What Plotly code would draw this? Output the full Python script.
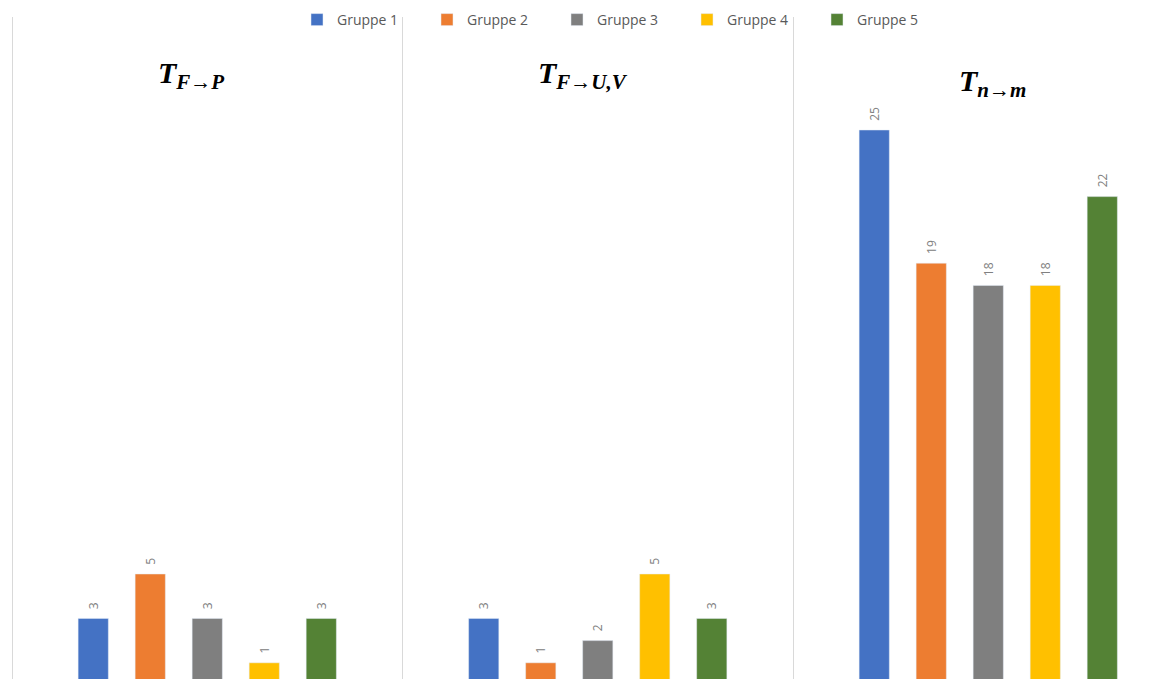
import plotly.graph_objects as go

categories = ["T_F→P", "T_F→U,V", "T_n→m"]
series_names = ["Gruppe 1", "Gruppe 2", "Gruppe 3", "Gruppe 4", "Gruppe 5"]
series_values = [
    [3, 3, 25],
    [5, 1, 19],
    [3, 2, 18],
    [1, 5, 18],
    [3, 3, 22],
]
colors = ["#4472C4", "#ED7D31", "#7F7F7F", "#FFC000", "#548235"]
title_html = [
    "<b><i>T</i></b><sub><b><i>F→P</i></b></sub>",
    "<b><i>T</i></b><sub><b><i>F→U,V</i></b></sub>",
    "<b><i>T</i></b><sub><b><i>n→m</i></b></sub>",
]
title_pos = [(191, 75), (583, 75), (992, 83)]

W, H = 1176, 679
fig = go.Figure()
for name, vals, col in zip(series_names, series_values, colors):
    fig.add_trace(go.Bar(
        x=categories, y=vals, name=name, marker_color=col,
        text=["\u00a0\u00a0" + str(v) for v in vals], textposition="outside", textangle=-90,
        textfont=dict(color="#808080", size=12, family="Open Sans"),
        constraintext="none", cliponaxis=False,
    ))

top_px = 17
plot_h = H - top_px
unit = 22.2
base_px = 685
ymax = (base_px - top_px) / unit
ymin = (base_px - H) / unit
cat_w = 390.5
left_px = 12
xmin = -0.5 - left_px / cat_w
xmax = -0.5 + (W - left_px) / cat_w

fig.update_layout(
    width=W, height=H,
    margin=dict(l=0, r=0, t=top_px, b=0, autoexpand=False),
    paper_bgcolor="white", plot_bgcolor="white",
    barmode="group", bargap=0.27, bargroupgap=0.47,
    showlegend=True,
    legend=dict(orientation="h", xref="container", yref="container",
                x=297 / W, y=1 - 4 / H, xanchor="left", yanchor="top",
                entrywidth=85, entrywidthmode="pixels",
                font=dict(family="Open Sans", size=14, color="#595959"),
                bgcolor="rgba(255,255,255,0)", itemclick=False),
    xaxis=dict(type="category", range=[xmin, xmax], tickson="boundaries",
               showgrid=True, gridcolor="#D9D9D9", gridwidth=1,
               showticklabels=False, ticks="", zeroline=False, showline=False),
    yaxis=dict(range=[ymin, ymax], visible=False, showgrid=False),
)
for (px, py), t in zip(title_pos, title_html):
    fig.add_annotation(text=t, xref="paper", yref="paper",
                       x=px / W, y=(H - py) / plot_h, xanchor="center", yanchor="middle",
                       showarrow=False,
                       font=dict(family="Liberation Serif", size=30, color="black"))

fig.write_html("out.html")
